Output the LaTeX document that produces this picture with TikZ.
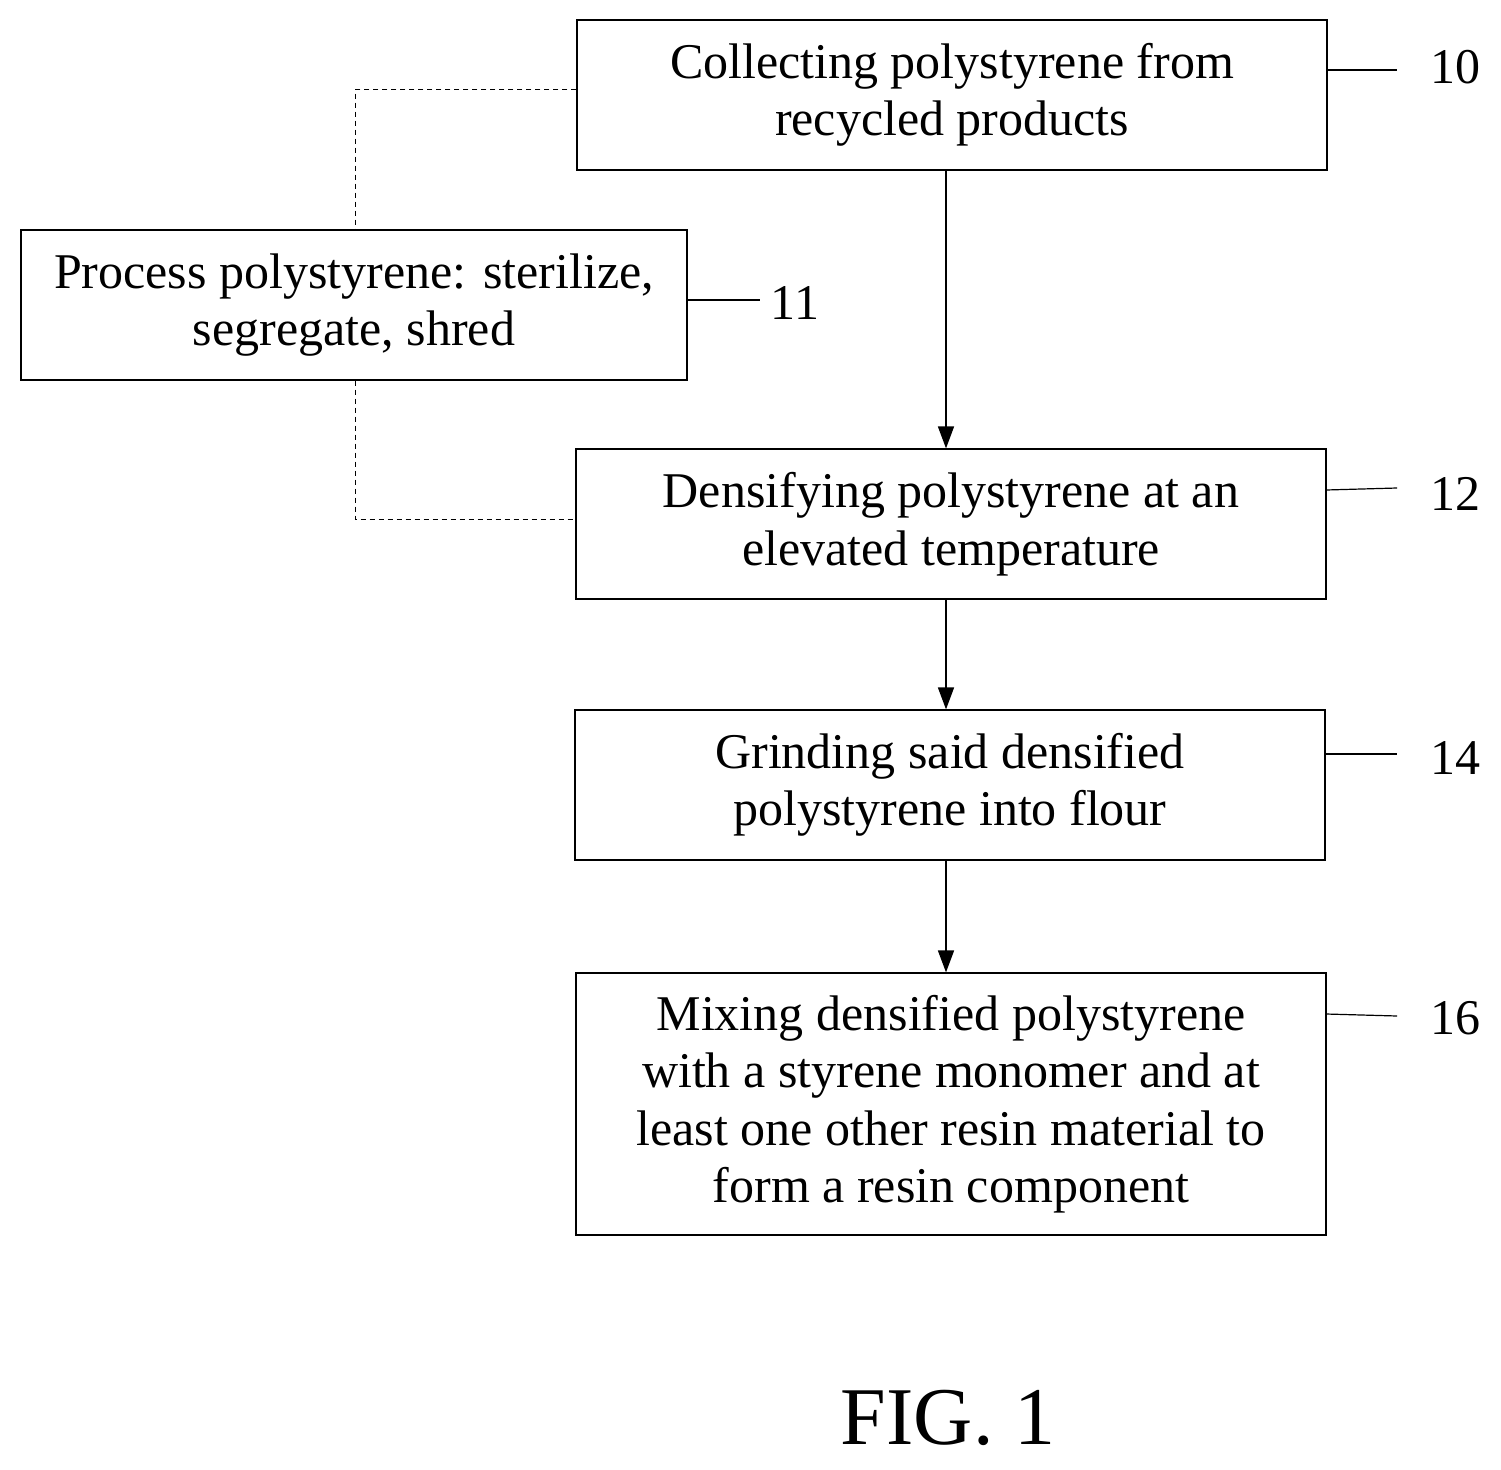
\documentclass[tikz,border=0pt]{standalone}
\usepackage{fontspec}
\setmainfont{Liberation Serif}
\usetikzlibrary{arrows.meta}
\begin{document}
\begin{tikzpicture}[x=1pt,y=-1pt,
  box/.style={draw,line width=1.2pt,minimum width=750pt,minimum height=150pt,align=center,inner sep=0pt,font=\fontsize{50}{57.5}\selectfont},
  lab/.style={font=\fontsize{50}{55}\selectfont,inner sep=0pt},
  arr/.style={line width=1.5pt,-{Triangle[length=22pt,width=16pt]}},
  dsh/.style={line width=1pt,dash pattern=on 5pt off 4pt}]
\useasboundingbox (0,0) rectangle (1501,1469);
\node[box] (b10) at (952,95) {Collecting polystyrene from\\recycled products};
\node[box,minimum width=666pt] (b11) at (354,305) {Process polystyrene: sterilize,\\segregate, shred};
\node[box] (b12) at (951,524) {Densifying polystyrene at an\\elevated temperature};
\node[box] (b14) at (950,785) {Grinding said densified\\polystyrene into flour};
\node[box,minimum height=262pt] (b16) at (951,1104) {Mixing densified polystyrene\\with a styrene monomer and at\\least one other resin material to\\form a resin component};
\node[lab] (l10) at (1455,67) {10};
\node[lab] (l11) at (795,303) {11};
\node[lab] (l12) at (1455,494) {12};
\node[lab] (l14) at (1455,758) {14};
\node[lab] (l16) at (1455,1018) {16};
\coordinate (e10) at (1397,70);
\coordinate (e11) at (760,300);
\coordinate (e12) at (1397,488);
\coordinate (e14) at (1397,754);
\coordinate (e16) at (1397,1016);
\draw[line width=1.2pt] (b10.east |- e10) -- (e10);
\draw[line width=1.2pt] (b11.east |- e11) -- (e11);
\draw[line width=1.2pt] (1326,490) -- (e12);
\draw[line width=1.2pt] (b14.east |- e14) -- (e14);
\draw[line width=1.2pt] (1326,1014) -- (e16);
\draw[arr] (b10.south -| 946,0) -- (b12.north -| 946,0);
\draw[arr] (b12.south -| 946,0) -- (b14.north -| 946,0);
\draw[arr] (b14.south -| 946,0) -- (b16.north -| 946,0);
\draw[dsh] (b10.west |- 0,90) -- (355,90) -- (b11.north -| 355,0);
\draw[dsh] (b11.south -| 355,0) -- (355,519) -- (b12.west |- 0,519);
\node[font=\fontsize{82}{90}\selectfont,inner sep=0pt] (fig) at (948,1418) {FIG. 1};
\end{tikzpicture}
\end{document}
